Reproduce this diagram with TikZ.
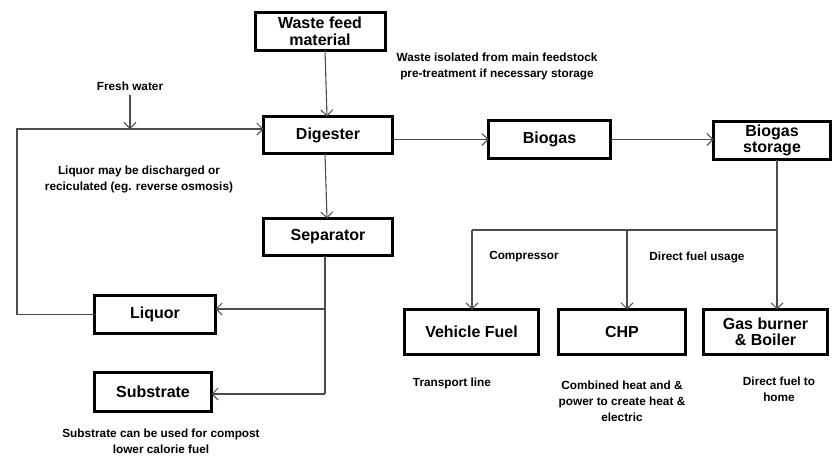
\documentclass[tikz,border=0pt]{standalone}
\usepackage{fontspec}
\setmainfont{Liberation Sans}
\usetikzlibrary{arrows.meta,calc}
\begin{document}
\begin{tikzpicture}[x=1pt,y=-1pt,
  box/.style={draw=black,line width=3pt,rectangle,inner sep=1pt,outer sep=0pt,align=center,
    font=\fontsize{16}{16.5}\selectfont\bfseries},
  lbl/.style={align=center,inner sep=0pt,font=\fontsize{11.8}{16}\selectfont\bfseries},
  conn/.style={draw=black!70,line width=1.1pt},
  arr/.style={conn,-{Straight Barb[length=6pt,width=12pt,line width=1pt]}}]
\useasboundingbox (0,0) rectangle (834,456);
% boxes
\node[box,minimum width=130pt,minimum height=38pt] (waste) at (320,31.5) {Waste feed\\material};
\node[box,minimum width=129pt,minimum height=37pt] (dig) at (328,135) {Digester};
\node[box,minimum width=129pt,minimum height=37pt] (sep) at (328,237) {Separator};
\node[box,minimum width=121pt,minimum height=38pt] (liq) at (155,314.5) {Liquor};
\node[box,minimum width=117pt,minimum height=39pt] (sub) at (153,392) {Substrate};
\node[box,minimum width=122pt,minimum height=38pt] (bio) at (549.5,139.5) {Biogas};
\node[box,minimum width=117pt,minimum height=38pt] (sto) at (772,140.5) {Biogas\\storage};
\node[box,minimum width=134pt,minimum height=45pt] (veh) at (471.5,332) {Vehicle Fuel};
\node[box,minimum width=127pt,minimum height=45pt] (chp) at (622,332) {CHP};
\node[box,minimum width=124pt,minimum height=45pt] (gas) at (765.5,332) {Gas burner\\\& Boiler};
% labels
\node[lbl] (wi) at (497,66) {Waste isolated from main feedstock\\pre-treatment if necessary storage};
\node[lbl] (fw) at (130,86) {Fresh water};
\node[lbl] (lq) at (139,179) {Liquor may be discharged or\\reciculated (eg. reverse osmosis)};
\node[lbl] (sc) at (161,441) {Substrate can be used for compost\\lower calorie fuel};
\node[lbl] (cp) at (524,257) {Compressor};
\node[lbl] (df) at (697,257) {Direct fuel usage};
\node[lbl] (tl) at (452,383) {Transport line};
\node[lbl] (ch) at (622,401.5) {Combined heat and \&\\power to create heat \&\\electric};
\node[lbl] (dh) at (779,389) {Direct fuel to\\home};
% coordinates
\coordinate (fb) at (17,129);
\coordinate (fwin) at (130,129);
\coordinate (j) at (777,230);
\coordinate (jl) at (472,230);
\coordinate (jm) at (627,230);
\coordinate (s1) at (325,309);
\coordinate (s2) at (325,394);
\coordinate (wx) at (325,0);
\coordinate (dx) at (327,0);
% connectors
\draw[arr] (waste.south -| wx) -- (dig.north -| dx);
\draw[arr] (dig.south -| wx) -- (sep.north -| dx);
\draw[arr] ($(fw.south)+(0,4)$) -- (fwin);
\draw[arr] (liq.west) -| (fb) -- (dig.west |- fb);
\draw[arr] (dig.east |- bio.west) -- (bio.west);
\draw[arr] (bio.east) -- (sto.west |- bio.east);
\draw[conn] (sto.south -| j) -- (j) -- (jl);
\draw[arr] (jl) -- (veh.north -| jl);
\draw[arr] (jm) -- (chp.north -| jm);
\draw[arr] (j) -- (gas.north -| j);
\draw[conn] (sep.south -| s2) -- (s2);
\draw[arr] (s1) -- (liq.east |- s1);
\draw[arr] (s2) -- (sub.east |- s2);
\end{tikzpicture}
\end{document}
